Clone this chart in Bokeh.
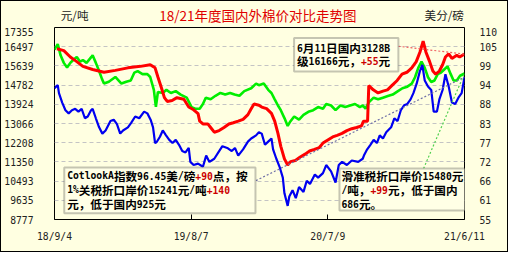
from bokeh.plotting import figure
from bokeh.layouts import column
from bokeh.models import Range1d, LinearAxis, FixedTicker, Label, BoxAnnotation
from bokeh.embed import file_html
from bokeh.resources import INLINE

# ---------------- data ----------------
x_tick_days = [0, 337, 674, 1011]
x_tick_labels = ["18/9/4", "19/8/7", "20/7/9", "21/6/11"]
left_ticks = [8777, 9635, 10493, 11350, 12208, 13066, 13924, 14782, 15639, 16497, 17355]
right_ticks = [55, 60.5, 66, 71.5, 77, 82.5, 88, 93.5, 99, 104.5, 110]
right_tick_labels = ["55", "61", "66", "72", "77", "83", "88", "94", "99", "105", "110"]

# domestic 3128B price (yuan/ton, left axis)
red_days = [6, 23, 39, 55, 70, 94, 122, 150, 181, 212, 236, 248, 255, 264, 271, 278, 290, 302, 319, 331,
            343, 354, 358, 366, 378, 385, 394, 406, 418, 430, 441, 453, 465, 477, 485, 492, 504, 511, 523, 535,
            543, 551, 558, 567, 575, 582, 594, 606, 618, 629, 641, 653, 662, 674, 686, 697, 709, 721, 733, 745,
            757, 762, 772, 775, 786, 798, 810, 821, 833, 845, 857, 869, 881, 892, 901, 909, 916, 925, 933, 940,
            949, 957, 964, 972, 980, 992, 999, 1011]
red_vals = [16405, 16321, 16039, 15829, 15619, 15481, 15355, 15439, 15552, 15619, 15691, 15552, 15144, 14640,
            14220, 14052, 14094, 14220, 14148, 13803, 13677, 13509, 13173, 13047, 13047, 12888, 12677, 12749,
            12888, 13043, 13098, 13169, 13253, 13463, 13728, 13938, 13884, 13800, 13728, 13518, 13169, 12623,
            12047, 11488, 11206, 11362, 11416, 11572, 11698, 11837, 11908, 11992, 12190, 12329, 12467, 12539,
            12623, 12749, 12833, 12888, 12959, 13169, 13169, 14766, 14569, 14430, 14514, 14569, 14779, 14989,
            15271, 15355, 15552, 15830, 16250, 16742, 16250, 15830, 15409, 15271, 15409, 15691, 16039, 16183,
            15972, 16111, 16039, 16166]

# sliding-tax port price (yuan/ton, left axis)
green_days = [0, 8, 15, 23, 31, 39, 46, 55, 63, 70, 79, 91, 94, 102, 110, 117, 122, 134, 150, 165, 177, 188,
              197, 205, 217, 229, 236, 245, 250, 255, 267, 276, 287, 299, 311, 326, 338, 347, 358, 366, 373,
              385, 397, 409, 421, 433, 444, 456, 468, 485, 497, 504, 516, 527, 535, 543, 551, 558, 567, 575,
              582, 591, 603, 614, 626, 638, 650, 662, 670, 682, 693, 705, 717, 729, 741, 753, 760, 767, 775,
              787, 798, 810, 822, 834, 846, 858, 870, 881, 889, 897, 905, 913, 921, 929, 937, 945, 953, 961,
              969, 977, 984, 992, 1000, 1011]
green_vals = [16363, 16616, 16111, 15775, 15565, 15775, 15901, 16040, 15830, 15901, 15775, 16040, 16111, 15775,
              15409, 15060, 14850, 14934, 15144, 14850, 14934, 14989, 15342, 15409, 15271, 15271, 15144, 14569,
              13810, 14472, 14430, 14569, 14430, 14514, 14358, 14220, 13800, 13728, 13728, 13938, 14220, 14148,
              14304, 14430, 14358, 14430, 14358, 14304, 14514, 14640, 14850, 14779, 14850, 14569, 14430, 14148,
              13871, 13661, 13308, 12959, 13169, 13379, 13240, 13451, 13589, 13661, 13800, 13728, 13938, 13871,
              13661, 13871, 13800, 13871, 13938, 13800, 13871, 13728, 14010, 14220, 14148, 14220, 14291, 14358,
              14501, 14640, 14711, 14850, 15132, 15552, 15830, 15552, 15132, 14922, 14989, 15271, 15342, 15481,
              15619, 15271, 14989, 14989, 15199, 15300]

# Cotlook A index (US cents/lb, right axis)
blue_days = [0, 8, 11, 19, 27, 35, 43, 51, 59, 67, 75, 82, 90, 94, 102, 110, 118, 126, 138, 146, 154, 162,
             169, 181, 189, 199, 209, 221, 229, 237, 243, 248, 252, 260, 267, 275, 283, 291, 299, 307, 315, 323,
             331, 335, 343, 354, 366, 374, 382, 394, 406, 414, 426, 437, 445, 453, 465, 477, 485, 497, 504, 511,
             519, 527, 535, 539, 547, 555, 563, 567, 575, 579, 587, 595, 603, 614, 622, 630, 642, 650, 662, 670,
             682, 693, 701, 709, 721, 733, 749, 760, 763, 771, 779, 787, 795, 802, 810, 818, 830, 838, 846, 854,
             862, 870, 878, 885, 893, 901, 907, 913, 921, 929, 935, 943, 949, 957, 964, 972, 980, 988, 996, 1004,
             1011]
blue_vals = [92.6, 93.5, 91.2, 88.5, 86.3, 85.4, 86.3, 86.7, 85.9, 86.7, 84.0, 84.5, 86.3, 86.7, 84.0, 81.4,
             79.6, 80.5, 83.2, 83.6, 82.3, 79.6, 80.5, 81.4, 82.7, 84.5, 84.0, 85.9, 85.4, 83.6, 81.4, 76.9, 77.2,
             78.7, 80.5, 79.1, 77.8, 76.9, 77.8, 76.4, 74.6, 74.2, 75.5, 71.5, 70.6, 71.0, 70.1, 73.3, 71.5, 72.4,
             74.6, 76.0, 75.5, 74.6, 75.5, 73.3, 75.1, 77.3, 78.2, 79.1, 80.0, 79.6, 76.4, 77.3, 78.2, 75.1, 72.4,
             70.1, 67.0, 62.5, 58.9, 61.6, 63.4, 61.1, 64.3, 62.9, 66.1, 65.2, 67.9, 67.0, 68.3, 70.6, 68.8, 65.6,
             70.6, 71.5, 70.6, 71.9, 71.5, 72.4, 73.3, 75.1, 76.4, 77.8, 76.9, 79.1, 78.2, 80.0, 81.4, 84.0, 83.2,
             86.3, 87.7, 88.1, 89.4, 91.2, 93.9, 97.5, 99.3, 94.8, 93.1, 92.1, 85.9, 85.9, 89.4, 92.1, 96.6, 93.1,
             88.5, 88.1, 89.9, 91.2, 95.8]

title_text = "18/21年度国内外棉价对比走势图"
left_unit = "元/吨"
right_unit = "美分/磅"
BLACK, RED = "#000000", "#CC0000"
box1_lines = [[("6月11日国内3128B", BLACK)],
              [("级16166元，", BLACK), ("+55", RED), ("元", BLACK)]]
box2_lines = [[("CotlookA指数96.45美/磅", BLACK), ("+90", RED), ("点，按", BLACK)],
              [("1%关税折口岸价15241元/吨", BLACK), ("+140", RED)],
              [("元，低于国内925元", BLACK)]]
box3_lines = [[("滑准税折口岸价15480元", BLACK)],
              [("/吨，", BLACK), ("+99", RED), ("元，低于国内", BLACK)],
              [("686元。", BLACK)]]

# ---------------- layout ----------------
W, H = 506, 250
RW, RH = 524, 268
HEAD = 26                                # header strip height (title + units)
MH = H - HEAD                            # main figure height
FL, FR, FB = 52, 463, 192                # frame edges in the main figure (px, from top; top = 0)
BG = "#FFFFE1"


def cx(X):
    return X * W / RW


def cy(Y):                               # reference y -> main-figure canvas y (from top)
    return Y * H / RH - HEAD


def data_x(c):
    return (c - FL) / (FR - FL) * (x_tick_days[-1] - x_tick_days[0]) + x_tick_days[0]


def data_yl(c):
    return left_ticks[0] + (FB - c) / FB * (left_ticks[-1] - left_ticks[0])


def data_yr(c):
    return right_ticks[0] + (FB - c) / FB * (right_ticks[-1] - right_ticks[0])


# header strip: frame covers it entirely so its texts are drawn
head = figure(width=W, height=HEAD, output_backend="svg", toolbar_location=None, title=None,
              x_axis_type=None, y_axis_type=None, x_range=Range1d(0, W), y_range=Range1d(HEAD, 0),
              min_border=0, min_border_left=0, min_border_right=0, min_border_top=0, min_border_bottom=0,
              background_fill_color=BG, border_fill_color=BG, outline_line_color=None)
head.grid.visible = False
ty = 15 * H / RH
head.add_layout(Label(x=cx(260), y=ty, text=title_text,
                      text_font="Noto Sans CJK SC", text_font_size="13.5px", text_color="#E00000",
                      text_align="center", text_baseline="middle"))
head.add_layout(Label(x=cx(8), y=ty, text=left_unit,
                      text_font="Noto Sans CJK SC", text_font_size="11.6px", text_color="#222222",
                      text_align="left", text_baseline="middle"))
head.add_layout(Label(x=cx(473), y=ty, text=right_unit,
                      text_font="Noto Sans CJK SC", text_font_size="11.6px", text_color="#222222",
                      text_align="left", text_baseline="middle"))

p = figure(width=W, height=MH, output_backend="svg", toolbar_location=None, title=None,
           x_range=Range1d(x_tick_days[0], x_tick_days[-1]),
           y_range=Range1d(left_ticks[0], left_ticks[-1]),
           min_border_left=FL, min_border_right=W - FR, min_border_top=0, min_border_bottom=MH - FB,
           background_fill_color=BG, border_fill_color=BG)
p.extra_y_ranges = {"usc": Range1d(right_ticks[0], right_ticks[-1])}
p.outline_line_color = "black"
p.outline_line_width = 1
p.xgrid.visible = False
p.ygrid.ticker = FixedTicker(ticks=left_ticks)
p.ygrid.grid_line_color = "#C4C4C4"
p.ygrid.grid_line_dash = "4 3"

AX_FONT = "DejaVu Sans Mono"
AX_SIZE = "9.7px"

xa = p.xaxis[0]
xa.ticker = FixedTicker(ticks=x_tick_days)
xa.major_label_overrides = {d: s for d, s in zip(x_tick_days, x_tick_labels)}
xa.axis_line_color = None
xa.major_tick_in = 5
xa.major_tick_out = 0
xa.major_tick_line_color = "black"
xa.minor_tick_line_color = None
xa.major_label_standoff = 11
xa.major_label_text_font = AX_FONT
xa.major_label_text_font_size = AX_SIZE
xa.major_label_text_color = "#222222"

ya = p.yaxis[0]
ya.ticker = FixedTicker(ticks=left_ticks)
ya.axis_line_color = None
ya.major_tick_line_color = None
ya.minor_tick_line_color = None
ya.major_label_standoff = 15
ya.major_label_text_font = AX_FONT
ya.major_label_text_font_size = AX_SIZE
ya.major_label_text_color = "#222222"

ra = LinearAxis(y_range_name="usc", ticker=FixedTicker(ticks=right_ticks))
ra.major_label_overrides = {t: s for t, s in zip(right_ticks, right_tick_labels)}
ra.axis_line_color = None
ra.major_tick_line_color = None
ra.minor_tick_line_color = None
ra.major_label_standoff = 9
ra.major_label_text_font = AX_FONT
ra.major_label_text_font_size = AX_SIZE
ra.major_label_text_color = "#222222"
p.add_layout(ra, "right")

# series
p.line(green_days, green_vals, line_color="#00EE00", line_width=2.6)
p.line(red_days, red_vals, line_color="#FF0000", line_width=3)
p.line(blue_days, blue_vals, line_color="#0000F0", line_width=2.2, y_range_name="usc")

# leader lines from the boxes to the series ends
p.line([data_x(cx(411)), red_days[-1]], [data_yl(cy(48)), red_vals[-1]],
       line_color="#F06060", line_width=1.2, line_dash="2 2")
p.line([data_x(cx(263)), blue_days[-1]], [data_yr(cy(192)), blue_vals[-1]],
       line_color="#7070A8", line_width=1.2, line_dash="2 2", y_range_name="usc")
p.line([data_x(cx(437)), green_days[-1]], [data_yl(cy(179)), green_vals[-1]],
       line_color="#50D050", line_width=1.2, line_dash="2 2")

# annotation boxes
CJK_FS = 11.6
ASC_FS = 9.7


def add_box(X0, X1, Y0, Y1):
    p.add_layout(BoxAnnotation(left=cx(X0), right=cx(X1), top=cy(Y0), bottom=cy(Y1),
                               left_units="canvas", right_units="canvas", bottom_units="canvas",
                               top_units="canvas", fill_color="#FFFFE6", fill_alpha=1,
                               line_color="#404040", line_width=2))


def is_wide(ch):
    return ord(ch) > 0x2E7F


def add_lines(X0, Ys, lines):
    for Y, segs in zip(Ys, lines):
        x = cx(X0)
        y = cy(Y)
        for text, color in segs:
            runs = []
            for ch in text:
                w = is_wide(ch)
                if runs and runs[-1][1] == w:
                    runs[-1][0] += ch
                else:
                    runs.append([ch, w])
            for run, w in runs:
                if w:
                    font, size, adv = "Noto Sans CJK SC", CJK_FS, CJK_FS
                else:
                    font, size, adv = "DejaVu Sans Mono", ASC_FS, ASC_FS * 0.602
                p.add_layout(Label(x=x, y=y, x_units="canvas", y_units="canvas", text=run,
                                   text_font=font, text_font_size=f"{size}px", text_font_style="bold",
                                   text_color=color, text_align="left", text_baseline="middle"))
                x += adv * len(run)


add_box(303, 411, 39, 75)
add_lines(306, [50, 64], box1_lines)
add_box(65, 263, 178, 227)
add_lines(68, [186.7, 201.7, 216.7], box2_lines)
add_box(350, 480, 179, 224)
add_lines(352, [187, 202, 217], box3_lines)

layout = column(head, p, spacing=0, styles={"border": "1px solid #000000", "background-color": BG})
open("out.html", "w").write(file_html(layout, INLINE))
